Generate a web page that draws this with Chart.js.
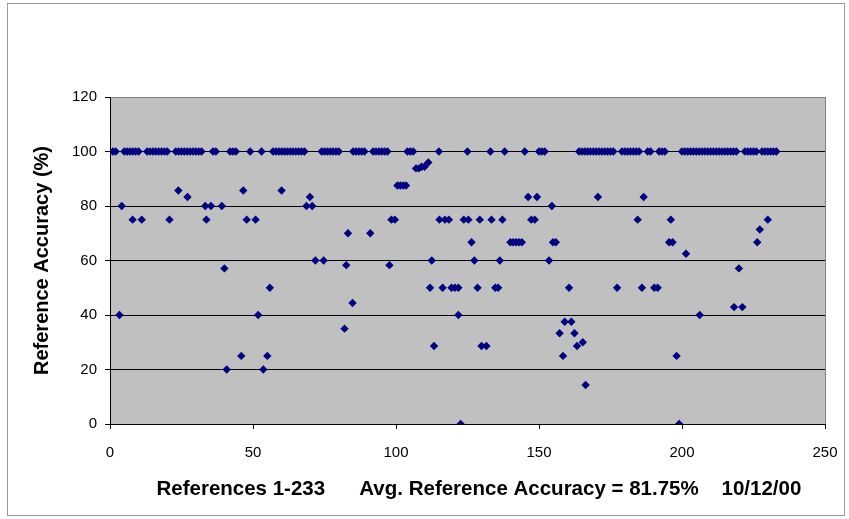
<!DOCTYPE html>
<html><head><meta charset="utf-8">
<script src="https://cdn.jsdelivr.net/npm/chart.js@4"></script>
<style>html,body{margin:0;padding:0;background:#fff}#wrap{width:849px;height:519px;position:relative}canvas{display:block}</style>
</head><body><div id="wrap"><canvas id="c" width="849" height="519"></canvas></div>
<script>
// References whose accuracy is 100%
const refsAt100 = [1,2,5,6,7,8,9,10,13,14,15,16,17,18,19,20,23,24,25,26,27,28,29,30,31,32,36,37,42,43,44,49,53,
  57,58,59,60,61,62,63,64,65,66,67,68,74,75,76,77,78,79,80,85,86,87,88,89,92,93,94,95,96,97,104,105,106,
  115,125,133,138,145,150,151,152,164,165,166,167,168,169,170,171,172,173,174,175,176,179,180,181,182,183,184,185,
  188,189,192,193,194,200,201,202,203,204,205,206,207,208,209,210,211,212,213,214,215,216,217,218,219,
  222,223,224,225,226,228,229,230,231,232,233];
// Other references (reference number, accuracy %)
const otherRefs = [3.3,4.1,7.9,11.1,20.8,23.9,27.1,33.3,33.7,35.3,39.1,40,40.8,45.9,46.6,47.8,50.9,51.8,53.6,55,55.9,60,
  68.7,69.9,70.7,71.8,74.7,82,82.6,83.2,84.8,91,97.7,98.4,99.6,100.5,101.5,102.5,103.5,107,108,109,110,111.3,111.9,112.5,113.3,
  115.2,116.3,117.1,118.5,119.4,120.6,121.8,121.8,122.6,123.7,125.3,126.4,127.4,128.5,129.3,129.9,131.6,133.4,134.7,135.7,136.3,137.2,
  140,141,142,143,144,146.2,147.3,148.5,149.3,153.5,154.5,154.9,155.9,157.2,158.4,159,160.5,161.3,162.4,163.3,165.3,166.3,
  170.6,177.3,184.5,186,186.6,190.3,191.5,195.5,196.1,196.7,198.1,199,201.4,206.2,218.2,219.9,221.1,226.3,227.2,230];
const otherAcc = [40,80,75,75,75,85.7,83.3,80,75,80,80,57.1,20,25,85.7,75,75,40,20,25,50,85.7,
  80,83.3,80,60,60,35,58.3,70,44.4,70,58.3,75,75,87.5,87.5,87.5,87.5,93.8,93.8,94.4,94.4,96,50,60,28.6,
  75,50,75,75,50,50,50,40,0,75,75,66.7,60,50,75,28.6,28.6,75,50,50,60,75,
  66.7,66.7,66.7,66.7,66.7,83.3,75,75,83.3,60,80,66.7,66.7,33.3,25,37.5,50,37.5,33.3,28.6,30,14.3,
  83.3,50,75,50,83.3,50,50,66.7,75,66.7,25,0,62.5,40,42.9,57.1,42.9,66.7,71.4,75];
const xTicks = [0,50,100,150,200,250];
const yTicks = [0,20,40,60,80,100,120];
const yTitle = 'Reference Accuracy (%)';
const xTitle = '    References 1-233      Avg. Reference Accuracy = 81.75%    10/12/00';

const points = refsAt100.map(r => ({x: r, y: 100}))
  .concat(otherRefs.map((r, i) => ({x: r, y: otherAcc[i]})));

const bgPlugin = {
  id: 'bg',
  beforeDraw(chart) {
    const {ctx, chartArea: a} = chart;
    ctx.save();
    ctx.fillStyle = '#fff';
    ctx.fillRect(0, 0, chart.width, chart.height);
    ctx.strokeStyle = '#9a9a9a';
    ctx.lineWidth = 1;
    ctx.strokeRect(7.5, 3.5, 837, 512);
    ctx.fillStyle = '#c0c0c0';
    ctx.fillRect(a.left, a.top, a.right - a.left, a.bottom - a.top);
    ctx.strokeStyle = '#808080';
    ctx.strokeRect(a.left + 0.5, a.top + 0.5, a.right - a.left, a.bottom - a.top);
    ctx.restore();
  }
};

new Chart(document.getElementById('c'), {
  type: 'scatter',
  data: { datasets: [{
    data: points,
    pointStyle: 'rectRot',
    pointRadius: 4.2,
    pointHoverRadius: 4.2,
    pointBorderWidth: 0,
    backgroundColor: '#000080',
    borderColor: '#000080'
  }]},
  options: {
    responsive: false,
    animation: false,
    events: [],
    layout: { padding: { left: 0, right: 24, top: 97, bottom: 0 } },
    plugins: { legend: { display: false }, tooltip: { enabled: false } },
    scales: {
      x: {
        type: 'linear', min: 0, max: 250,
        afterBuildTicks(s) { s.ticks = xTicks.map(v => ({value: v})); },
        afterFit(s) { s.height = 95; s.paddingLeft = 0; s.paddingRight = 0; },
        grid: { drawOnChartArea: false, drawTicks: true, tickLength: 5, color: '#000', tickColor: '#000' },
        border: { display: true, color: '#000', width: 1 },
        ticks: { color: '#000', padding: 15, font: { family: 'Liberation Sans, Arial, sans-serif', size: 15 } },
        title: { display: true, text: xTitle, color: '#000', padding: { top: 0, bottom: 17 },
          font: { family: 'Liberation Sans, Arial, sans-serif', size: 20.5, weight: 'bold' } }
      },
      y: {
        type: 'linear', min: 0, max: 120,
        afterBuildTicks(s) { s.ticks = yTicks.map(v => ({value: v})); },
        afterFit(s) { s.width = 110; s.paddingTop = 0; s.paddingBottom = 0; },
        grid: { drawTicks: true, tickLength: 5, tickColor: '#000',
          color: c => (c.tick && c.tick.value === 120) ? '#808080' : '#000' },
        border: { display: true, color: '#000', width: 1 },
        ticks: { color: '#000', padding: 8, font: { family: 'Liberation Sans, Arial, sans-serif', size: 15 } },
        title: { display: true, text: yTitle, color: '#000', padding: { top: 30, bottom: 0 },
          font: { family: 'Liberation Sans, Arial, sans-serif', size: 20, weight: 'bold' } }
      }
    }
  },
  plugins: [bgPlugin]
});
</script></body></html>
